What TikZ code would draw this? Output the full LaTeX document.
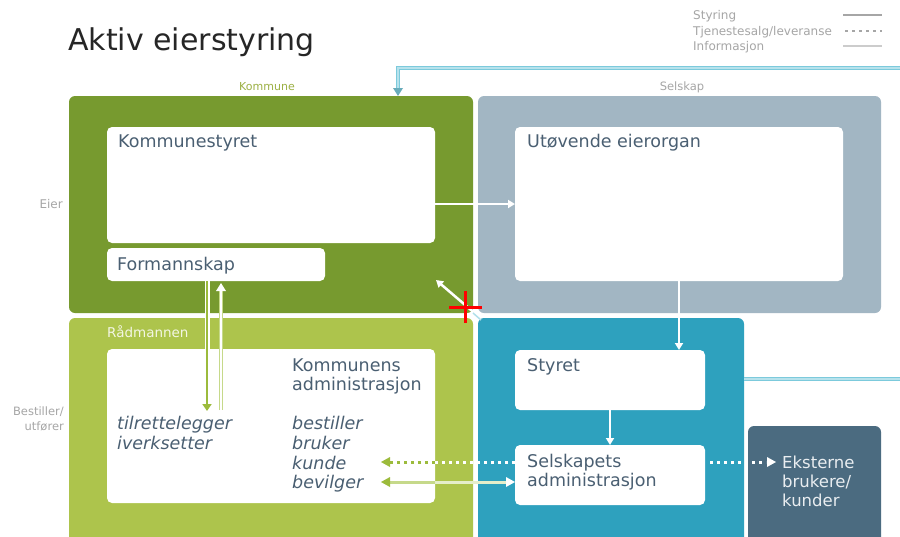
\documentclass[tikz,border=0pt]{standalone}
\usepackage{fontspec}
\setmainfont{DejaVu Sans}
\usetikzlibrary{arrows.meta,calc}
\definecolor{dkgreen}{HTML}{779A2F}
\definecolor{ltgreen}{HTML}{ADC44C}
\definecolor{grayblue}{HTML}{A2B6C3}
\definecolor{selblue}{HTML}{2EA1BE}
\definecolor{slate}{HTML}{4B6B80}
\definecolor{txtcol}{HTML}{4A5F72}
\definecolor{leggray}{HTML}{A6A6A6}
\definecolor{infoblue}{HTML}{7CCADC}
\definecolor{arrgreen}{HTML}{9CBB3C}
\definecolor{infogreen}{HTML}{C6D98A}
\begin{document}
\begin{tikzpicture}[x=1pt,y=-1pt,
  bigbox/.style={rectangle,rounded corners=6pt,inner sep=0pt,outer sep=0pt,anchor=north west,draw=none},
  wbox/.style={rectangle,rounded corners=5pt,inner sep=0pt,outer sep=0pt,anchor=north west,fill=white,draw=none},
  txt/.style={anchor=base west,inner sep=0pt,text=txtcol,font=\fontsize{17.5}{20}\selectfont},
  itxt/.style={txt,font=\fontsize{17.5}{20}\selectfont\itshape},
  etxt/.style={txt,text=white!88!slate,font=\fontsize{16.5}{20}\selectfont},
  lbl/.style={inner sep=0pt,text=leggray,font=\fontsize{12}{14}\selectfont},
  styr/.style={draw=white,line width=2.5pt,-{Triangle[length=7pt,width=8pt]}},
  dots/.style={line width=3pt,dash pattern=on 3pt off 4pt}
]
\clip (0,0) rectangle (900,536);
\fill[white] (0,0) rectangle (900,536);

% title and legend
\node[anchor=base west,inner sep=0pt,text=black!85,font=\fontsize{30}{34}\selectfont] (title) at (68,50) {Aktiv eierstyring};
\node[lbl,anchor=base west] (lg1) at (693,19) {Styring};
\node[lbl,anchor=base west] (lg2) at (693,35) {Tjenestesalg/leveranse};
\node[lbl,anchor=base west] (lg3) at (693,50) {Informasjon};
\coordinate (l1a) at (843,15); \coordinate (l1b) at (882,15);
\coordinate (l2a) at (845,31); \coordinate (l2b) at (882,31);
\coordinate (l3a) at (843,46); \coordinate (l3b) at (882,46);
\draw[leggray,line width=2.5pt] (l1a) -- (l1b);
\draw[leggray,line width=2.5pt,dash pattern=on 3pt off 4pt] (l2a) -- (l2b);
\draw[black!20,line width=2.5pt] (l3a) -- (l3b);

% group labels
\node[lbl,anchor=base,text=ltgreen!90!black,font=\fontsize{11}{13}\selectfont] (kl) at (267,90) {Kommune};
\node[lbl,anchor=base,font=\fontsize{11.5}{13}\selectfont] (sl) at (682,90) {Selskap};
\node[lbl,anchor=base east] (eier) at (63,208) {Eier};
\node[lbl,anchor=base east,align=right,font=\fontsize{11.5}{15}\selectfont] (best) at (64,430) {Bestiller/\\utfører};

% large boxes
\node[bigbox,fill=dkgreen,minimum width=404pt,minimum height=217pt] (kb) at (69,96) {};
\node[bigbox,fill=grayblue,minimum width=403pt,minimum height=217pt] (sb) at (478,96) {};
\node[bigbox,fill=ltgreen,minimum width=404pt,minimum height=226pt] (rb) at (69,318) {};
\node[bigbox,fill=selblue,minimum width=266pt,minimum height=226pt] (bb) at (478,318) {};
\node[bigbox,fill=slate,minimum width=133pt,minimum height=118pt] (eb) at (748,426) {};

% white boxes
\node[wbox,minimum width=328pt,minimum height=116pt] (ks) at (107,127) {};
\node[wbox,minimum width=218pt,minimum height=33pt] (fm) at (107,248) {};
\node[wbox,minimum width=328pt,minimum height=154pt] (ue) at (515,127) {};
\node[wbox,minimum width=328pt,minimum height=154pt] (ka) at (107,349) {};
\node[wbox,minimum width=190pt,minimum height=60pt] (st) at (515,350) {};
\node[wbox,minimum width=190pt,minimum height=60pt] (sa) at (515,445) {};

% texts
\node[txt] (tks) at (118,147) {Kommunestyret};
\node[txt] (tfm) at (117,270) {Formannskap};
\node[txt] (tue) at (527,147) {Utøvende eierorgan};
\node[txt] (tka) at (292,371) {Kommunens};
\node[txt] (tka2) at (292,390) {administrasjon};
\node[itxt] (ti1) at (117,429) {tilrettelegger};
\node[itxt] (ti2) at (117,449) {iverksetter};
\node[itxt] (tb1) at (292,429) {bestiller};
\node[itxt] (tb2) at (292,449) {bruker};
\node[itxt] (tb3) at (292,469) {kunde};
\node[itxt] (tb4) at (292,488) {bevilger};
\node[txt] (tst) at (527,371) {Styret};
\node[txt] (tsa) at (527,467) {Selskapets};
\node[txt] (tsa2) at (527,486) {administrasjon};
\node[etxt] (te1) at (782,468) {Eksterne};
\node[etxt] (te2) at (782,487) {brukere/};
\node[etxt] (te3) at (782,506) {kunder};
\node[anchor=base west,inner sep=0pt,text=white!85!ltgreen,font=\fontsize{13.5}{16}\selectfont] (trm) at (107,337) {Rådmannen};

% information lines (blue)
\coordinate (ib1) at (900,68);
\coordinate (ib2) at (398,68);
\coordinate (ib3) at (900,379);
\coordinate (ibt) at (ib2 |- kb.north);
\draw[infoblue,line width=4pt] (ib1) -- (ib2) -- ($(ibt)+(0,-6)$);
\draw[infoblue!55!white,line width=1.2pt] (ib1) -- (ib2) -- ($(ibt)+(0,-8)$);
\fill[infoblue!85!black] ($(ibt)+(-5,-8)$) -- ($(ibt)+(5,-8)$) -- (ibt) -- cycle;
\draw[infoblue,line width=4pt] (bb.east |- ib3) -- (ib3);
\draw[infoblue!55!white,line width=1.2pt] (bb.east |- ib3) -- (ib3);

% styring arrows (white)
\draw[styr] (ks.east |- ue.west) -- (ue.west);
\draw[styr] (ue.south) -- (ue.south |- st.north);
\draw[styr] (st.south) -- (st.south |- sa.north);

% diagonal arrow
\coordinate (dg1) at (478,316);
\coordinate (dg2) at (436,280);
\draw[styr] (dg1) -- (dg2);
\draw[white!40!infoblue,line width=1.5pt] (473,313) -- (481,320);

% red cross
\coordinate (rc) at (465,307);
\draw[red,line width=3pt] ($(rc)+(-16,0)$) -- ($(rc)+(17,0)$);
\draw[red,line width=3pt] ($(rc)+(0,-16)$) -- ($(rc)+(0,16)$);

% green arrows between Formannskap and administrasjon
\coordinate (gd1) at ($(fm.south)+(-9,0)$);
\coordinate (gd2) at (207,411);
\draw[white,line width=5pt] (gd1) -- ($(gd2)+(0,-8)$);
\draw[arrgreen,line width=2.5pt,-{Triangle[length=7pt,width=9pt]}] (gd1) -- (gd2);
\coordinate (gu1) at (221,410);
\coordinate (gu2) at ($(fm.south)+(5,2)$);
\draw[infogreen,line width=4.5pt] (gu1) -- ($(gu2)+(0,7)$);
\draw[white,line width=1.8pt] (gu1) -- ($(gu2)+(0,7)$);
\fill[white] ($(gu2)+(-5,8)$) -- ($(gu2)+(5,8)$) -- (gu2) -- cycle;

% dotted leveranse arrows
\coordinate (dl1) at ($(sa.west)+(0,-13)$);
\coordinate (dl2) at (ka.east |- dl1);
\coordinate (dl3) at (381,462);
\draw[white,dots] (dl1) -- (dl2);
\draw[arrgreen,dots] (dl2) -- ($(dl3)+(8,0)$);
\fill[arrgreen] (dl3) -- ($(dl3)+(9,-5)$) -- ($(dl3)+(9,5)$) -- cycle;

\coordinate (de1) at ($(sa.east)+(5,-13)$);
\coordinate (de2) at (776,462);
\draw[white,dots] (de1) -- ($(de2)+(-10,0)$);
\fill[white] (de2) -- ($(de2)+(-9,-5)$) -- ($(de2)+(-9,5)$) -- cycle;

% bidirectional information arrow
\coordinate (bi1) at (381,482);
\coordinate (bi2) at ($(sa.west)+(0,7)$);
\draw[infogreen,line width=3pt] ($(bi1)+(8,0)$) -- (ka.east |- bi1);
\draw[white!55!infogreen,line width=3pt] (ka.east |- bi1) -- ($(bi2)+(-8,0)$);
\fill[arrgreen] (bi1) -- ($(bi1)+(9,-5)$) -- ($(bi1)+(9,5)$) -- cycle;
\fill[white] (bi2) -- ($(bi2)+(-9,-5)$) -- ($(bi2)+(-9,5)$) -- cycle;
\end{tikzpicture}
\end{document}
